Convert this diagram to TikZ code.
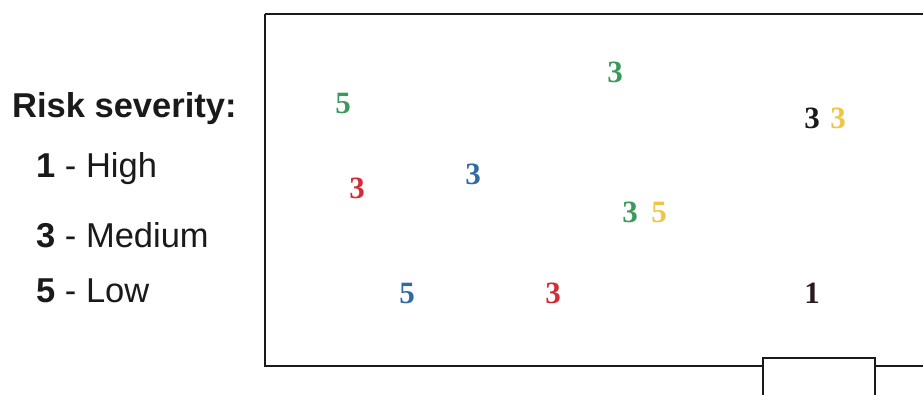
\documentclass[tikz,border=0pt]{standalone}
\usepackage{fontspec}
\setmainfont{Liberation Serif}
\setsansfont{Liberation Sans}
\usepackage{tikz}
\usetikzlibrary{positioning}
\definecolor{rkink}    {HTML}{1A1A1A}
\definecolor{rkgreen}  {HTML}{3A9A5C}
\definecolor{rkred}    {HTML}{D62B35}
\definecolor{rkblue}   {HTML}{2F6AA6}
\definecolor{rkyellow} {HTML}{F0C447}
\definecolor{rkdark}   {HTML}{2B1A22}
\tikzset{
  rkscore/.style={inner sep=0pt, font=\fontsize{31}{34}\selectfont\bfseries\rmfamily},
  rklegend/.style={inner sep=0pt, anchor=base west,
                   font=\fontsize{34.5}{38}\selectfont\sffamily, text=rkink},
  rkwall/.style={draw=rkink, line width=2.8pt},
}

\begin{document}
\begin{tikzpicture}[x=1pt,y=-1pt]
  \clip (0,0) rectangle (923,394);
  \fill[white] (0,0) rectangle (923,394);
  % room outline and door
  \draw[rkwall] (265,14) -- (940,14);
  \draw[rkwall] (265,14) -- (265,366) -- (940,366);
  \draw[rkwall,fill=white] (763,358) rectangle (875,410);
  % legend
  \node[rklegend] (title) at (12,117) {\bfseries Risk severity:};
  \foreach \n/\v/\t/\y in {high/1/High/177, med/3/Medium/247, low/5/Low/302}
    {\node[rklegend] (\n) at (36,\y) {\textbf{\v} - \t};}
  % risks in the room
  \foreach \n/\v/\c/\x/\y in {a/5/rkgreen/343/103, b/3/rkgreen/615/72,
                               c/3/rkink/812/118, d/3/rkyellow/838/118,
                               e/3/rkred/357/188, f/3/rkblue/473/174,
                               g/3/rkgreen/630/212, h/5/rkyellow/659/212,
                               i/5/rkblue/407/293, j/3/rkred/553/293,
                               k/1/rkdark/812/293}
    {\node[rkscore,text=\c] (risk\n) at (\x,\y) {\v};}
\end{tikzpicture}
\end{document}
